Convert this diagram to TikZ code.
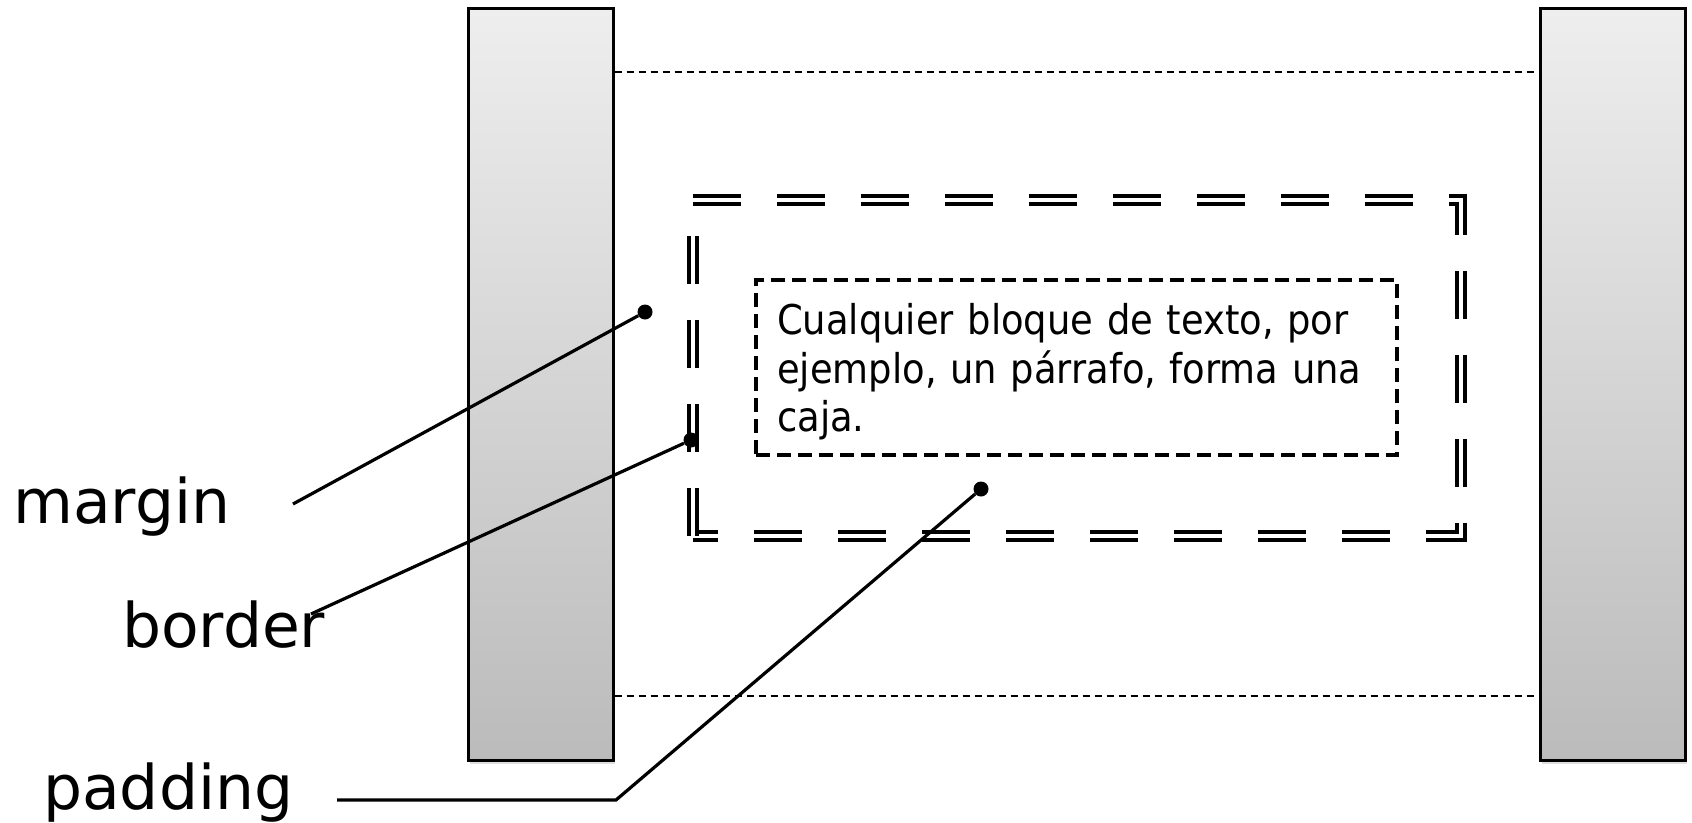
\documentclass[tikz,border=0pt]{standalone}
\usepackage{fontspec}
\setmainfont{DejaVu Sans}
\newfontfamily\boxfont{DejaVu Sans Condensed}
\usetikzlibrary{shadows,calc}
\definecolor{bartop}{HTML}{EEEEEE}
\definecolor{barbot}{HTML}{BBBBBB}
\begin{document}
\begin{tikzpicture}[x=1pt,y=-1pt,
  bar/.style={draw=black, line width=3pt, top color=bartop, bottom color=barbot,
    minimum width=145pt, minimum height=752pt, inner sep=0pt,
    drop shadow={opacity=0.25, shadow xshift=1.5pt, shadow yshift=-3pt}},
  guide/.style={line width=1.4pt, dash pattern=on 7pt off 5pt},
  frame/.style={inner sep=0pt, minimum width=768pt, minimum height=336pt},
  frameline/.style={line width=3.6pt, double=white, double distance=4.4pt,
    dash pattern=on 48pt off 36pt, line join=miter},
  textbox/.style={draw, line width=3.1pt, dash pattern=on 14pt off 7pt,
    minimum width=641pt, minimum height=175pt, inner sep=0pt},
  boxtext/.style={inner sep=0pt, text width=620pt, align=left,
    font=\boxfont\fontsize{41}{48.5}\selectfont},
  lab/.style={inner sep=0pt, font=\fontsize{61.5}{70}\selectfont},
  dot/.style={circle, fill=black, minimum size=15pt, inner sep=0pt},
  conn/.style={line width=3.2pt}
]
\useasboundingbox (0,0) rectangle (1692,822);
% bars
\node[bar] (lbar) at (540.5,384.5) {};
\node[bar] (rbar) at (1613,384.5) {};
% guide lines
\coordinate (gt) at (0,72);
\coordinate (gb) at (0,696);
\draw[guide] (lbar.east |- gt) -- (rbar.west |- gt);
\draw[guide] (lbar.east |- gb) -- (rbar.west |- gb);
% border frame
\node[frame] (bd) at (1077,368) {};
\draw[frameline] (bd.north west) -- (bd.north east) -- (bd.south east) -- (bd.south west);
\draw[frameline] (bd.south west) -- ($(bd.north west)+(0,10)$);
% content box
\node[textbox] (tb) at (1076.5,367.5) {};
\node[boxtext, anchor=base west] (txt) at (777,334.5) {Cualquier bloque de texto, por\\ejemplo, un párrafo, forma una\\caja.};
% labels
\node[lab, anchor=base west] (lm) at (13,523) {margin};
\node[lab, anchor=base west] (lb) at (122,647) {border};
\node[lab, anchor=base west] (lp) at (43,809) {padding};
% dots
\node[dot] (dm) at (645,312) {};
\node[dot] (db) at (691,440) {};
\node[dot] (dp) at (981,489) {};
% connector starts
\coordinate (sm) at (293,504);
\coordinate (sb) at (311,614);
\coordinate (sp) at (337,800);
\coordinate (kp) at (616,800);
\draw[conn] (sm) -- (dm);
\draw[conn] (sb) -- (db);
\draw[conn] (sp) -- (kp) -- (dp);
\end{tikzpicture}
\end{document}
